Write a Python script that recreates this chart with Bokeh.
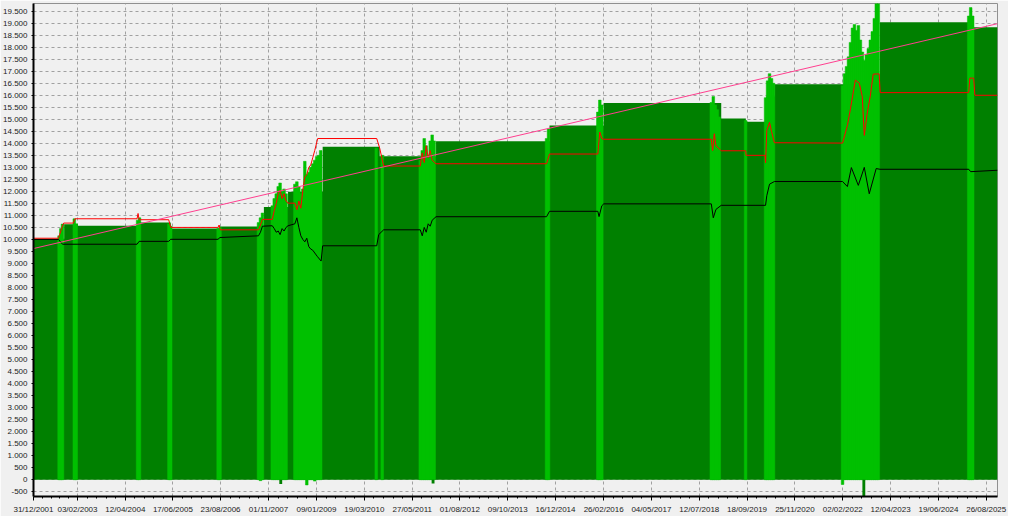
import pandas as pd
from bokeh.plotting import figure
from bokeh.models import Range1d, FixedTicker, CustomJSTickFormatter, ColumnDataSource
from bokeh.embed import file_html
from bokeh.resources import INLINE

# ---------------- data ----------------
x_tick_labels = ["31/12/2001", "03/02/2003", "12/04/2004", "17/06/2005", "23/08/2006",
                 "01/11/2007", "09/01/2009", "19/03/2010", "27/05/2011", "01/08/2012",
                 "09/10/2013", "16/12/2014", "26/02/2016", "04/05/2017", "12/07/2018",
                 "18/09/2019", "25/11/2020", "02/02/2022", "12/04/2023", "19/06/2024",
                 "26/08/2025"]
y_ticks = list(range(-500, 20000, 500))
x_start, x_end = "2001-12-31", "2025-12-06"

# balance (dark green area, stepped)
bal_dates = ["2001-12-31", "2002-10-05", "2003-02-07", "2004-08-23", "2005-05-28", "2006-08-18",
             "2007-09-20", "2008-04-26", "2009-03-06", "2010-08-05", "2011-12-29", "2014-10-23",
             "2016-02-27", "2019-01-27", "2019-09-07", "2020-03-10", "2020-05-23", "2023-01-05",
             "2025-05-04", "2025-12-06"]
bal_vals = [10030, 10630, 10570, 10700, 10460, 10540, 11350, 11980, 13860, 13460, 14090, 14740,
            15680, 15030, 14900, 15950, 16460, 19040, 18830, 18830]

# equity swings (light green bars)
eq_dates = ["2002-08-20", "2002-09-05", "2002-09-20", "2003-01-05", "2003-01-22",
            "2004-08-01", "2004-08-18", "2005-05-12", "2005-05-28", "2006-08-01", "2006-08-18",
            "2007-08-02", "2007-08-20", "2007-09-07", "2007-12-05", "2007-12-23", "2008-01-10",
            "2008-01-28", "2008-02-14", "2008-03-03", "2008-03-21", "2008-04-08",
            "2008-06-27", "2008-07-15", "2008-08-02", "2008-08-20", "2008-09-07", "2008-09-25",
            "2008-10-13", "2008-10-31", "2008-11-18", "2008-12-06", "2008-12-24", "2009-01-11",
            "2009-01-29", "2009-02-16",
            "2010-07-05", "2010-08-28",
            "2011-08-08", "2011-08-26", "2011-09-13", "2011-10-01", "2011-10-19", "2011-11-06",
            "2011-11-24", "2011-12-12",
            "2014-09-26", "2014-10-14",
            "2016-01-04", "2016-01-22", "2016-02-09",
            "2018-10-29", "2018-11-16", "2018-12-04", "2018-12-22", "2019-01-09",
            "2019-09-05",
            "2020-03-04", "2020-03-22", "2020-04-09", "2020-04-27", "2020-05-15",
            "2022-01-31", "2022-02-18", "2022-03-08", "2022-03-26", "2022-04-13", "2022-05-01",
            "2022-05-19", "2022-06-06", "2022-06-24", "2022-07-12", "2022-07-30", "2022-08-17",
            "2022-09-04", "2022-09-22", "2022-10-10", "2022-10-28", "2022-11-15", "2022-12-03",
            "2022-12-21",
            "2025-03-20", "2025-04-07", "2025-04-25"]
eq_top = [10150, 10450, 10640, 10860, 10650,
          10800, 10900, 10650, 10550, 10450, 10500,
          10700, 10900, 11100, 11400, 11700, 11900,
          12200, 12350, 12000, 12100, 11900,
          12300, 12400, 12200, 11900, 12100, 13250,
          12700, 12800, 13000, 13150, 13300, 13450,
          13500, 13700,
          13800, 13500,
          13300, 13700, 14200, 13900, 13500, 14100,
          14350, 14100,
          14200, 14600,
          15300, 15800, 15600,
          15700, 15950, 15600, 15400, 15100,
          14950,
          15900, 16600, 16900, 16700, 16500,
          16400, 16900, 17200, 17600, 18200, 18800,
          18950, 18700, 18900, 18300, 17800, 17450,
          17700, 17950, 18300, 18650, 19200, 19850,
          19850,
          19300, 19650, 19300]
eq_low = [0, 0, 0, 0, 0,
          0, 0, 0, 0, 0, 0,
          0, -40, 0, 0, 0, 0,
          0, 0, 0, 0, 0,
          0, 0, 0, 0, 0, 0,
          -220, 0, 0, 0, -60, 0,
          0, 0,
          0, 0,
          0, 0, 0, 0, 0, 0,
          0, 0,
          0, 0,
          0, 0, 0,
          0, 0, 0, 0, 0,
          0,
          0, 0, 0, 0, 0,
          -200, 0, 0, 0, 0, 0,
          0, 0, 0, 0, 0, 0,
          0, 0, 0, 0, 0, 0,
          0,
          0, 0, 0]

# drawdowns below zero (dark green)
dd_dates = ["2008-02-20", "2011-12-02", "2022-08-12"]
dd_vals = [-175, -160, -680]

# red line
red_dates = ["2001-12-31", "2002-08-15", "2002-08-25", "2002-09-05", "2002-09-15", "2002-10-01",
             "2002-12-28", "2003-01-10", "2004-07-27", "2004-08-05", "2004-08-15", "2005-05-10",
             "2005-05-28", "2006-07-31", "2006-08-10", "2006-08-20", "2007-08-02",
             "2007-08-20", "2007-09-07", "2007-12-05", "2007-12-23", "2008-01-10", "2008-01-28",
             "2008-02-14", "2008-03-03", "2008-03-21", "2008-04-08", "2008-04-26", "2008-06-27",
             "2008-07-15", "2008-08-02", "2008-08-20", "2008-09-07", "2008-09-25", "2008-10-13",
             "2008-10-31", "2008-11-18", "2008-12-06", "2008-12-24", "2009-01-20", "2010-07-09",
             "2010-08-05", "2010-09-10", "2011-08-08", "2011-08-26", "2011-09-13", "2011-10-01",
             "2011-10-19", "2011-11-06", "2011-11-24", "2011-12-29", "2014-09-26", "2014-10-23",
             "2016-01-04", "2016-01-22", "2016-02-09", "2016-02-27", "2018-10-29", "2018-11-10",
             "2018-11-25", "2018-12-10", "2019-01-27", "2019-09-06", "2019-09-09", "2020-02-28",
             "2020-03-04", "2020-03-15",
             "2020-04-09", "2020-04-27", "2020-05-23", "2022-01-31", "2022-03-16", "2022-04-12",
             "2022-05-27", "2022-07-02", "2022-07-29", "2022-08-16", "2022-09-12", "2022-10-09",
             "2022-11-05", "2022-12-29", "2023-01-07", "2025-03-20", "2025-03-30", "2025-05-04",
             "2025-05-15", "2025-12-06"]
red_vals = [10050, 10050, 10200, 10350, 10500, 10680,
            10680, 10860, 10860, 11080, 10820, 10820,
            10500, 10500, 10600, 10400, 10400,
            10600, 10835, 10835, 11200, 11500, 11900,
            12050, 11700, 11900, 11600, 11510, 11510,
            11240, 11600, 11300, 12050, 12600, 12700,
            13000, 13100, 13400, 13700, 14200, 14200,
            13800, 13055, 13055, 13600, 13200, 13900,
            13400, 13700, 13300, 13150, 13150, 13555,
            13555, 14470, 14200, 14170, 14170, 13700,
            14400, 13900, 13690, 13690, 13500, 13500,
            13190, 14535,
            14870, 14500, 14025, 14010, 14740, 15420,
            16630, 16500, 15950, 14330, 15260, 15950,
            16880, 16890, 16110, 16110, 16715, 16715,
            16000, 16000]

# black line
blk_dates = ["2001-12-31", "2002-08-15", "2002-09-20", "2003-02-07", "2004-07-27", "2004-08-15",
             "2005-05-10", "2005-05-28", "2006-07-31", "2006-08-18", "2007-08-02", "2007-08-20",
             "2007-09-07", "2007-12-05", "2007-12-23", "2008-01-10", "2008-01-28", "2008-02-14",
             "2008-03-03", "2008-03-21", "2008-04-08", "2008-04-26", "2008-06-27", "2008-07-15",
             "2008-08-02", "2008-08-20", "2008-09-07", "2008-09-25", "2008-10-13", "2008-10-31",
             "2008-11-18", "2008-12-06", "2009-01-15", "2009-02-20", "2009-03-06", "2010-07-09",
             "2010-07-27", "2010-09-10", "2011-08-08", "2011-08-26", "2011-09-13", "2011-10-01",
             "2011-10-19", "2011-11-06", "2011-11-24", "2011-12-29", "2014-09-26", "2014-10-23",
             "2016-01-04", "2016-01-15", "2016-02-09", "2016-02-27", "2018-10-29", "2018-11-16",
             "2018-12-10", "2019-01-27", "2020-03-04", "2020-03-15", "2020-04-09", "2020-05-23",
             "2022-01-31", "2022-03-16", "2022-04-21", "2022-06-23", "2022-08-16", "2022-09-30",
             "2022-12-02", "2023-01-05", "2025-03-20", "2025-04-07", "2025-12-06"]
blk_vals = [10000, 10000, 9800, 9800, 9800, 9920,
            9920, 10005, 10005, 10080, 10150, 10300,
            10550, 10570, 10450, 10300, 10350, 10200,
            10450, 10350, 10500, 10570, 10650, 10900,
            10500, 10150, 10000, 9900, 10050, 9700,
            9600, 9550, 9300, 9100, 9735, 9735,
            10200, 10400, 10400, 10150, 10500, 10300,
            10650, 10550, 10800, 10945, 10945, 11170,
            11170, 10950, 11400, 11480, 11480, 10900,
            11250, 11420, 11420, 11820, 12300, 12410,
            12410, 12200, 12990, 12250, 13000, 11900,
            12950, 12920, 12920, 12820, 12880]

# trend line
trend_dates = ["2001-12-31", "2025-12-06"]
trend_vals = [9620, 18980]

# ---------------- helpers ----------------
def dt(lst):
    return pd.to_datetime(lst)

def ms(lst):
    return [d.value / 1e6 for d in pd.to_datetime(lst)]

DAY = 86400000.0

x_ticks = [d.value / 1e6 for d in pd.to_datetime(x_tick_labels, format="%d/%m/%Y")]
minor = []
for a, b in zip(x_ticks[:-1], x_ticks[1:]):
    for k in range(1, 5):
        minor.append(a + (b - a) * k / 5)

# ---------------- figure ----------------
p = figure(width=1008, height=516, x_axis_type="datetime",
           x_range=Range1d(ms([x_start])[0], ms([x_end])[0]),
           y_range=Range1d(-700, 19820),
           output_backend="svg", toolbar_location=None,
           min_border_top=3, min_border_right=11, min_border_left=0, min_border_bottom=0)

p.background_fill_color = "#f0f0f0"
p.border_fill_color = "#f0f0f0"
p.outline_line_color = "#909090"
p.outline_line_width = 1

# balance area
bal_src = ColumnDataSource(dict(d=dt(bal_dates), v=bal_vals))
p.varea_step(x="d", y1=0, y2="v", step_mode="after", source=bal_src, fill_color="#008000")

# equity bars
eq_src = ColumnDataSource(dict(d=dt(eq_dates), top=eq_top, low=eq_low))
p.vbar(x="d", top="top", bottom="low", width=24 * DAY, source=eq_src,
       fill_color="#00c000", line_color="#00c000", line_width=0.5)

dd_src = ColumnDataSource(dict(d=dt(dd_dates), v=dd_vals))
p.vbar(x="d", top=0, bottom="v", width=26 * DAY, source=dd_src,
       fill_color="#008000", line_color=None)

# lines
p.line(x=dt(blk_dates), y=blk_vals, line_color="#000000", line_width=1)
p.line(x=dt(red_dates), y=red_vals, line_color="#ff0000", line_width=1)
p.line(x=dt(trend_dates), y=trend_vals, line_color="#ff3f8f", line_width=1)

# grid
p.xgrid.ticker = FixedTicker(ticks=x_ticks)
p.ygrid.ticker = FixedTicker(ticks=y_ticks)
for g in (p.xgrid, p.ygrid):
    g.grid_line_color = "#a0a0a0"
    g.grid_line_dash = "3 3"
    g.grid_line_width = 1
    g.level = "underlay"

# axes
font = "Liberation Sans"
p.xaxis.ticker = FixedTicker(ticks=x_ticks, minor_ticks=minor)
p.xaxis.formatter = CustomJSTickFormatter(code="""
const d = new Date(tick);
const dd = String(d.getUTCDate()).padStart(2, '0');
const mm = String(d.getUTCMonth() + 1).padStart(2, '0');
return dd + '/' + mm + '/' + d.getUTCFullYear();
""")
p.yaxis.ticker = FixedTicker(ticks=y_ticks)
p.yaxis.formatter = CustomJSTickFormatter(code="""
const neg = tick < 0;
let s = Math.round(Math.abs(tick)).toString();
s = s.replace(/\\B(?=(\\d{3})+(?!\\d))/g, '.');
return (neg ? '-' : '') + s;
""")
for ax in (p.xaxis, p.yaxis):
    ax.axis_label = None
    ax.axis_label_standoff = 0
    ax.axis_line_color = "#000000"
    ax.axis_line_width = 2
    ax.major_tick_line_color = "#000000"
    ax.minor_tick_line_color = "#000000"
    ax.major_tick_in = 0
    ax.minor_tick_in = 0
    ax.major_label_text_font = font
    ax.major_label_text_font_size = "8px"
    ax.major_label_text_color = "#222222"
p.xaxis.major_tick_out = 4
p.xaxis.minor_tick_out = 2
p.xaxis.major_label_standoff = 4
p.yaxis.major_tick_out = 2
p.yaxis.minor_tick_out = 0
p.yaxis.major_label_standoff = 4

open("out.html", "w").write(file_html(p, INLINE))
